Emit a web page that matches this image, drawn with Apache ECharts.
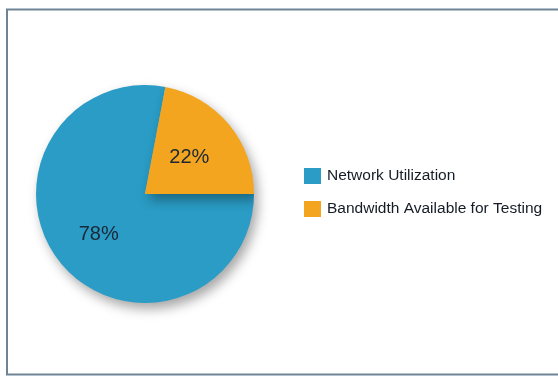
<!DOCTYPE html>
<html>
<head>
<meta charset="utf-8">
<script src="https://cdn.jsdelivr.net/npm/echarts@6/dist/echarts.min.js"></script>
<style>
  html, body { margin: 0; padding: 0; background: #ffffff; }
  #chart { width: 558px; height: 377px; }
</style>
</head>
<body>
<div id="chart"></div>
<script>
// Share of the link in use versus what is left for testing
const categories = ['Network Utilization', 'Bandwidth Available for Testing'];
const shares = [78, 22];
const colors = ['#2a9cc5', '#f4a51f'];

const total = shares.reduce((a, b) => a + b, 0);
// Orange slice sits between 3 o'clock and its own angle, counter-clockwise
const startAngle = 360 * shares[1] / total;

const chart = echarts.init(document.getElementById('chart'), null, { renderer: 'canvas' });

chart.setOption({
  backgroundColor: '#ffffff',
  animation: false,
  graphic: [{
    type: 'rect',
    shape: { x: 7, y: 9.5, width: 600, height: 365 },
    style: { fill: 'none', stroke: '#6f8397', lineWidth: 2 },
    z: 0
  }],
  legend: {
    orient: 'vertical',
    left: 304,
    top: 168,
    padding: 0,
    itemWidth: 17,
    itemHeight: 16,
    itemGap: 17,
    icon: 'rect',
    selectedMode: false,
    textStyle: {
      fontFamily: 'Liberation Sans, Arial, sans-serif',
      fontSize: 15.5,
      color: '#151c26',
      padding: [0, 0, 0, 1]
    },
    data: categories
  },
  series: [{
    type: 'pie',
    center: [145, 194],
    radius: [0, 109],
    startAngle: startAngle,
    clockwise: false,
    silent: true,
    itemStyle: {
      borderWidth: 0,
      shadowBlur: 12,
      shadowOffsetX: 4,
      shadowOffsetY: 6,
      shadowColor: 'rgba(0,0,0,0.35)'
    },
    label: {
      show: true,
      position: 'inside',
      formatter: '{c}%',
      fontFamily: 'Liberation Sans, Arial, sans-serif',
      fontSize: 20,
      color: '#1b2836',
      textBorderWidth: 0
    },
    labelLine: { show: false },
    data: categories.map((name, i) => ({
      name: name,
      value: shares[i],
      itemStyle: { color: colors[i] },
      // the larger slice's label sits a little further out
      label: i === 0 ? { offset: [-2, 4] } : {}
    }))
  }]
});
</script>
</body>
</html>
